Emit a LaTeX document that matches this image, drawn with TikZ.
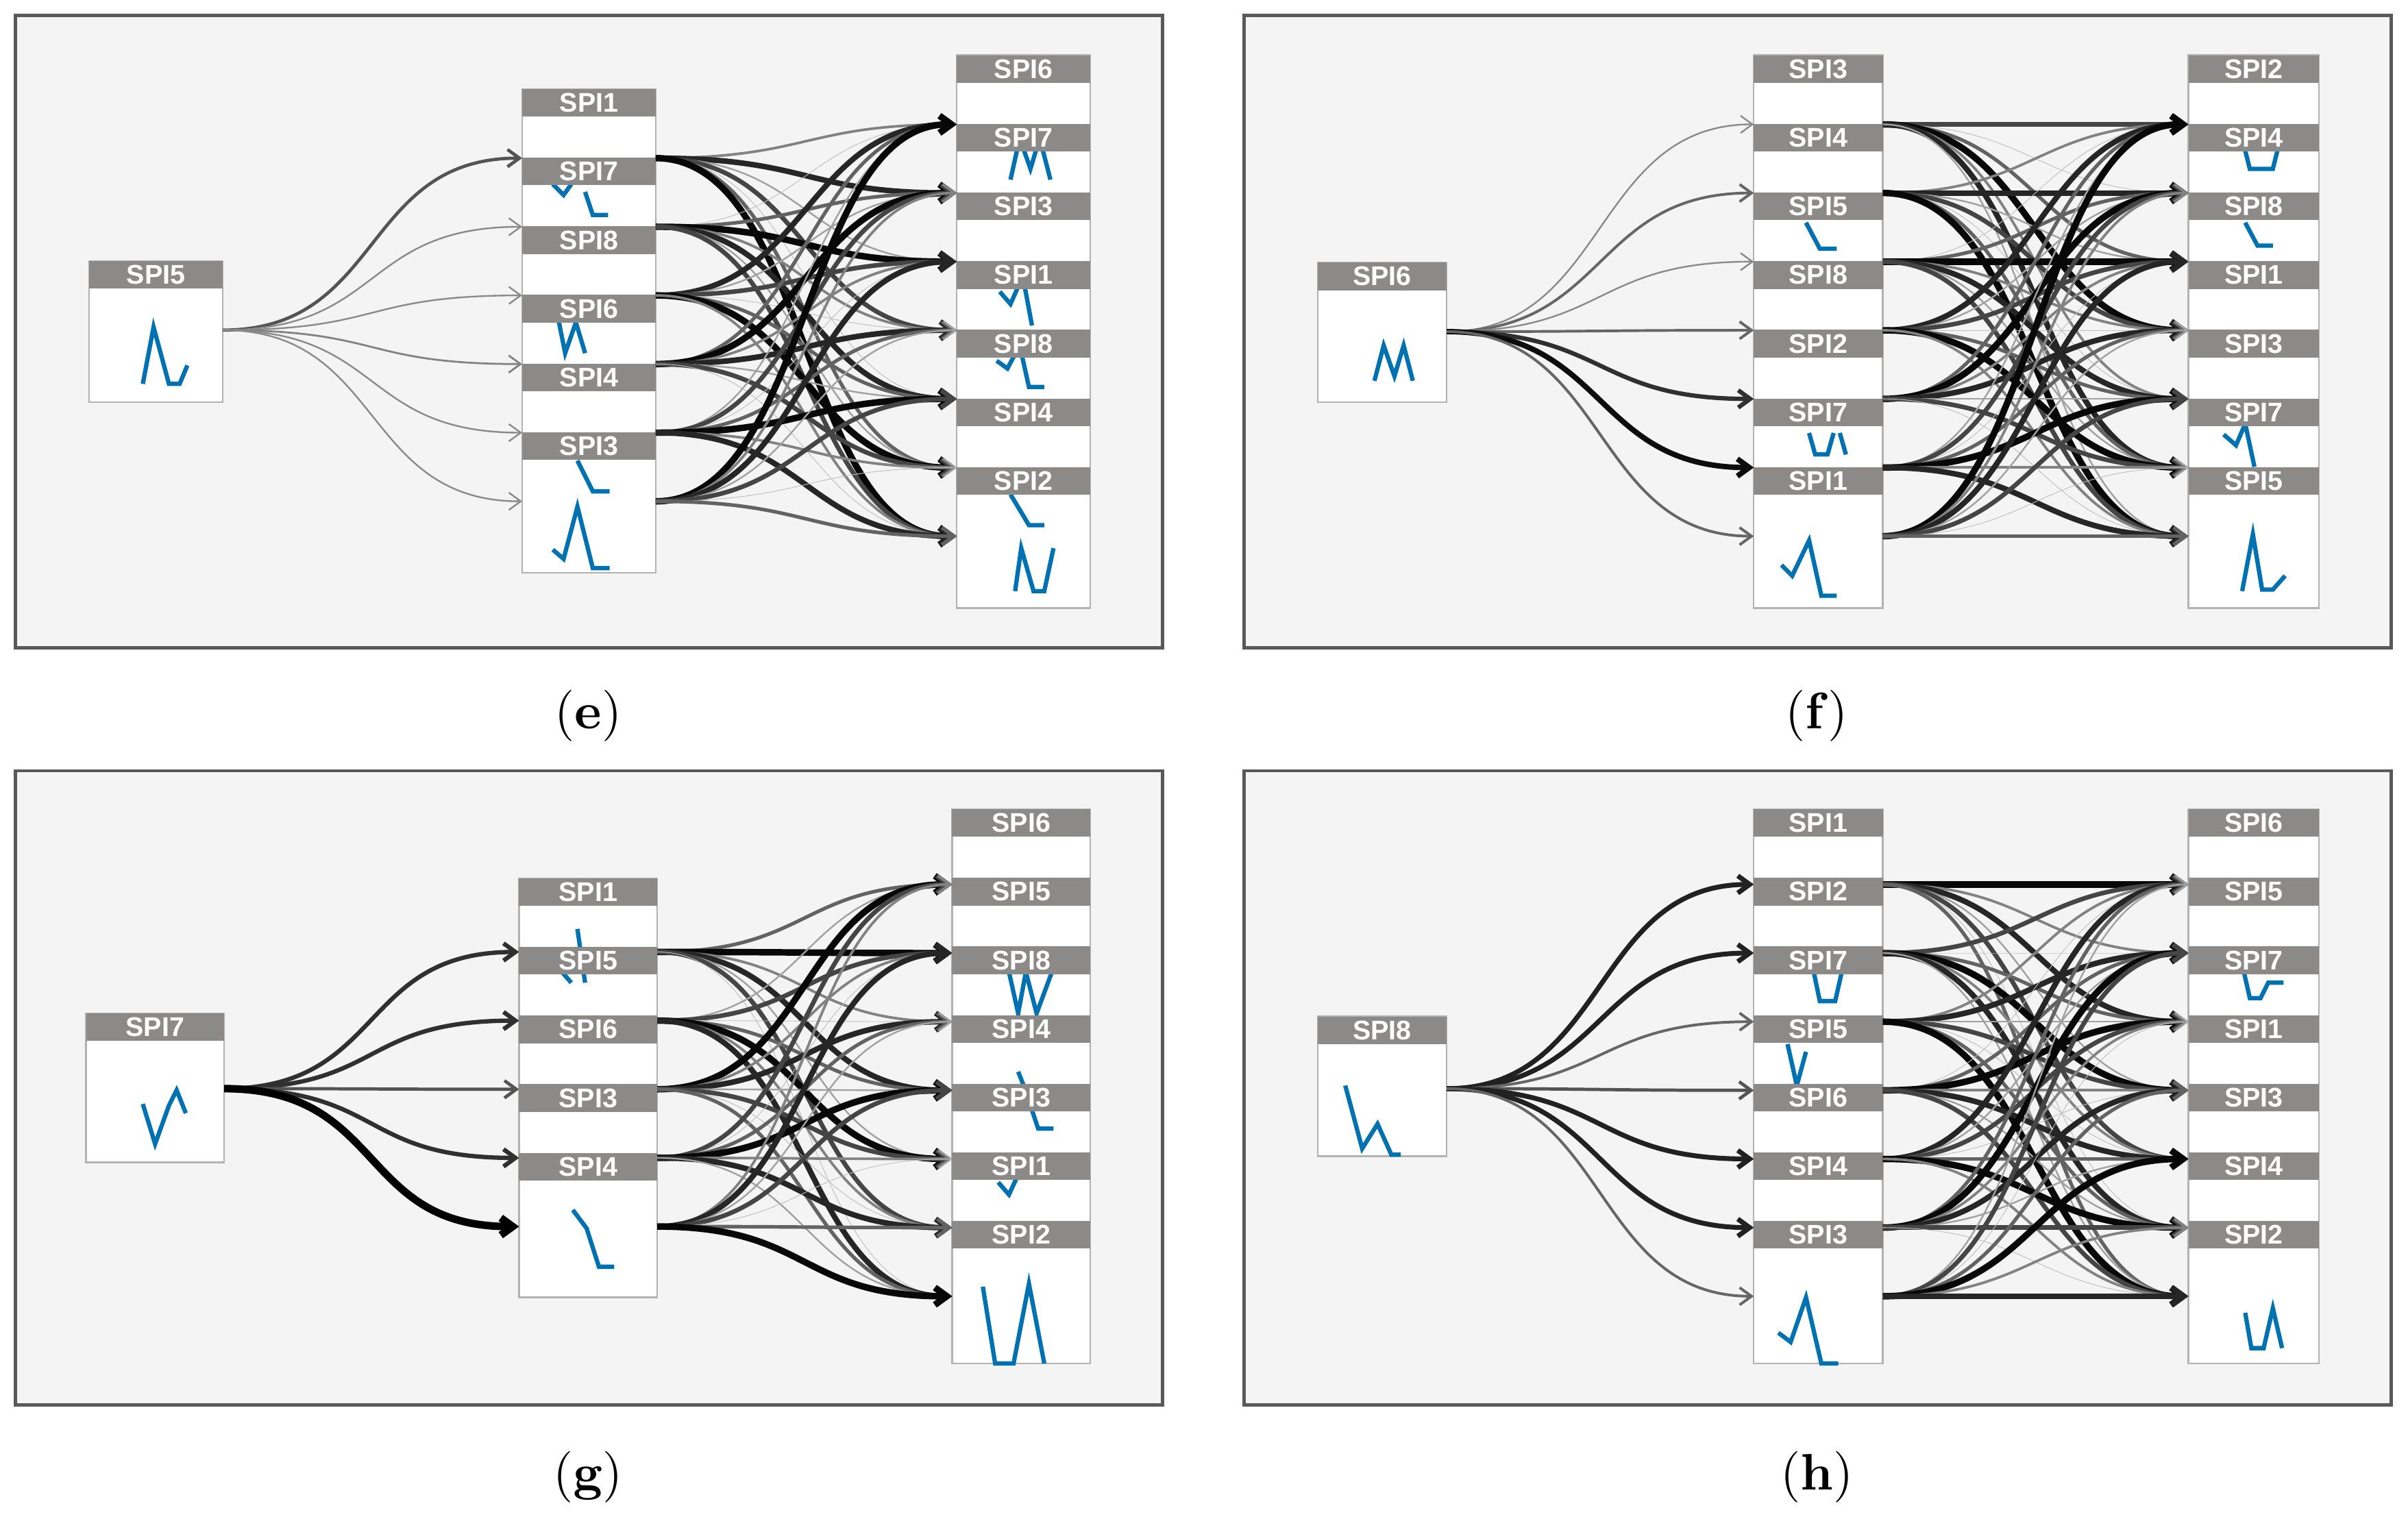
\documentclass[tikz,border=0pt]{standalone}
\usepackage{fontspec}
\newfontfamily\hdrf{Liberation Sans}
\usetikzlibrary{arrows.meta}
\definecolor{hgray}{RGB}{140,137,137}
\definecolor{spk}{RGB}{0,114,178}
\definecolor{bg}{RGB}{244,244,244}
\newcommand\mkcol[7]{%
  \draw[box] (#2,#4) rectangle ({#2+#3},#5);
  \foreach \k in {1,...,#6} {
    \coordinate (#1L\k) at (#2,{#7+44.7*(\k-1)});
    \coordinate (#1R\k) at ({#2+#3},{#7+44.7*(\k-1)});
  }}
\newcommand\mkhdr[5]{%
  \foreach \l [count=\k] in {#5}
    \node[hdr, minimum width={#3*0.01cm}] (#1H\k) at ({#2+#3/2},{#4+44.7*(\k-1)+9}) {\l};}
\newcommand\mkfan[3]{%
  \foreach \k/\w in {#3} {
    \pgfmathtruncatemacro\c{min(100,25+70*\w)}
    \draw[edge,line width=\w pt,draw=black!\c] (#1) .. controls +(105,0) and +(-105,0) .. (#2L\k);
  }}
\newcommand\mkedges[5]{%
  \foreach \i in {1,...,#3} {
    \foreach \j in {1,...,#4} {
      \pgfmathtruncatemacro\m{mod(\i*5+\j*3+#5,7)}
      \pgfmathsetmacro\w{0.12+0.18*\m}
      \pgfmathtruncatemacro\c{25+12*\m}
      \draw[edge,line width=\w pt,draw=black!\c] (#1R\i) .. controls +(100,0) and +(-100,0) .. (#2L\j);
    }}}
\begin{document}
\begin{tikzpicture}[x=0.01cm,y=-0.01cm,
  frame/.style={draw=black!65,line width=0.6pt,fill=bg},
  box/.style={draw=black!30,fill=white,line width=0.3pt},
  hdr/.style={fill=hgray,text=white,inner sep=0pt,minimum height=0.18cm,
    font=\hdrf\bfseries\fontsize{5}{5}\selectfont},
  edge/.style={-{Straight Barb[length=2.2pt,width=3.2pt]}},
  sp/.style={draw=spk,line width=0.8pt},
  lab/.style={font=\fontsize{9.5}{11}\selectfont}]
\useasboundingbox (0,0) rectangle (1568,989);
% frames
\draw[frame] (10,10) rectangle (757,422);
\draw[frame] (810,10) rectangle (1557,422);
\draw[frame] (10,502) rectangle (757,915);
\draw[frame] (810,502) rectangle (1557,915);
% columns
\mkcol{eA}{58}{87}{170}{262}{1}{215}
\mkcol{eM}{340}{87}{58}{373}{6}{103}
\mkcol{eR}{623}{87}{36}{396}{7}{81}
\mkcol{fA}{858}{84}{171}{262}{1}{216}
\mkcol{fM}{1142}{84}{36}{396}{7}{81}
\mkcol{fR}{1425}{85}{36}{396}{7}{81}
\mkcol{gA}{56}{90}{660}{757}{1}{709}
\mkcol{gM}{338}{90}{572}{845}{5}{620}
\mkcol{gR}{620}{90}{527}{888}{7}{576}
\mkcol{hA}{858}{84}{662}{753}{1}{709}
\mkcol{hM}{1142}{84}{527}{888}{7}{576}
\mkcol{hR}{1425}{85}{527}{888}{7}{576}
% sparklines (e)
\draw[sp] (93,250)--(100,213)--(110,250)--(117,250)--(122,238);
\draw[sp] (360,120)--(367,127)--(372,120) (381,125)--(386,140)--(396,140);
\draw[sp] (363,205)--(368,230)--(375,210)--(381,230);
\draw[sp] (376,300)--(386,320)--(397,320);
\draw[sp] (360,358)--(367,364)--(376,330)--(386,370)--(397,370);
\draw[sp] (658,117)--(664,90)--(671,110)--(677,90)--(684,117);
\draw[sp] (651,190)--(658,198)--(666,180)--(672,212);
\draw[sp] (649,235)--(656,240)--(664,225)--(670,252)--(680,252);
\draw[sp] (658,322)--(670,342)--(680,342);
\draw[sp] (661,385)--(665,357)--(673,385)--(680,385)--(686,357);
% sparklines (f)
\draw[sp] (895,248)--(901,225)--(908,245)--(914,225)--(920,248);
\draw[sp] (1176,145)--(1185,162)--(1196,162);
\draw[sp] (1178,282)--(1182,296)--(1190,296)--(1194,282) (1198,282)--(1202,296);
\draw[sp] (1160,368)--(1167,375)--(1178,352)--(1186,388)--(1196,388);
\draw[sp] (1462,98)--(1465,110)--(1480,110)--(1483,98);
\draw[sp] (1462,145)--(1470,160)--(1480,160);
\draw[sp] (1448,283)--(1456,290)--(1462,276)--(1468,304);
\draw[sp] (1460,385)--(1467,348)--(1473,384)--(1480,384)--(1488,375);
% sparklines (g)
\draw[sp] (93,719)--(101,745)--(110,720)--(115,710)--(121,725);
\draw[sp] (365,632)--(372,640) (376,605)--(381,640);
\draw[sp] (373,788)--(382,800)--(390,825)--(400,825);
\draw[sp] (657,633)--(663,660)--(668,633)--(675,660)--(685,633);
\draw[sp] (663,698)--(667,708)--(676,735)--(686,735);
\draw[sp] (650,770)--(657,778)--(663,765);
\draw[sp] (640,838)--(648,888)--(660,888)--(670,836)--(680,888);
% sparklines (h)
\draw[sp] (876,707)--(887,748)--(897,732)--(906,752)--(912,752);
\draw[sp] (1180,628)--(1185,652)--(1195,652)--(1200,630);
\draw[sp] (1164,680)--(1170,707)--(1176,685);
\draw[sp] (1158,868)--(1166,874)--(1176,845)--(1186,888)--(1197,888);
\draw[sp] (1460,628)--(1465,650)--(1472,650)--(1477,640)--(1487,640);
\draw[sp] (1462,855)--(1466,878)--(1474,878)--(1480,852)--(1486,878);
% headers
\mkhdr{eA}{58}{87}{170}{SPI5}
\mkhdr{eM}{340}{87}{58}{SPI1,SPI7,SPI8,SPI6,SPI4,SPI3}
\mkhdr{eR}{623}{87}{36}{SPI6,SPI7,SPI3,SPI1,SPI8,SPI4,SPI2}
\mkhdr{fA}{858}{84}{171}{SPI6}
\mkhdr{fM}{1142}{84}{36}{SPI3,SPI4,SPI5,SPI8,SPI2,SPI7,SPI1}
\mkhdr{fR}{1425}{85}{36}{SPI2,SPI4,SPI8,SPI1,SPI3,SPI7,SPI5}
\mkhdr{gA}{56}{90}{660}{SPI7}
\mkhdr{gM}{338}{90}{572}{SPI1,SPI5,SPI6,SPI3,SPI4}
\mkhdr{gR}{620}{90}{527}{SPI6,SPI5,SPI8,SPI4,SPI3,SPI1,SPI2}
\mkhdr{hA}{858}{84}{662}{SPI8}
\mkhdr{hM}{1142}{84}{527}{SPI1,SPI2,SPI7,SPI5,SPI6,SPI4,SPI3}
\mkhdr{hR}{1425}{85}{527}{SPI6,SPI5,SPI7,SPI1,SPI3,SPI4,SPI2}
% edges
\mkfan{eAR1}{eM}{1/0.6,2/0.3,3/0.3,4/0.35,5/0.3,6/0.3}
\mkfan{fAR1}{fM}{1/0.3,2/0.5,3/0.3,4/0.5,5/0.8,6/1.0,7/0.5}
\mkfan{gAR1}{gM}{1/0.8,2/0.8,3/0.6,4/0.8,5/1.4}
\mkfan{hAR1}{hM}{1/0.9,2/0.9,3/0.5,4/0.6,5/0.9,6/0.9,7/0.5}
\mkedges{eM}{eR}{6}{7}{1}
\mkedges{fM}{fR}{7}{7}{3}
\mkedges{gM}{gR}{5}{7}{2}
\mkedges{hM}{hR}{7}{7}{5}
% labels
\node[lab] (le) at (383,466) {(\textbf{e})};
\node[lab] (lf) at (1183,466) {(\textbf{f})};
\node[lab] (lg) at (383,962) {(\textbf{g})};
\node[lab] (lh) at (1183,962) {(\textbf{h})};
\end{tikzpicture}
\end{document}
